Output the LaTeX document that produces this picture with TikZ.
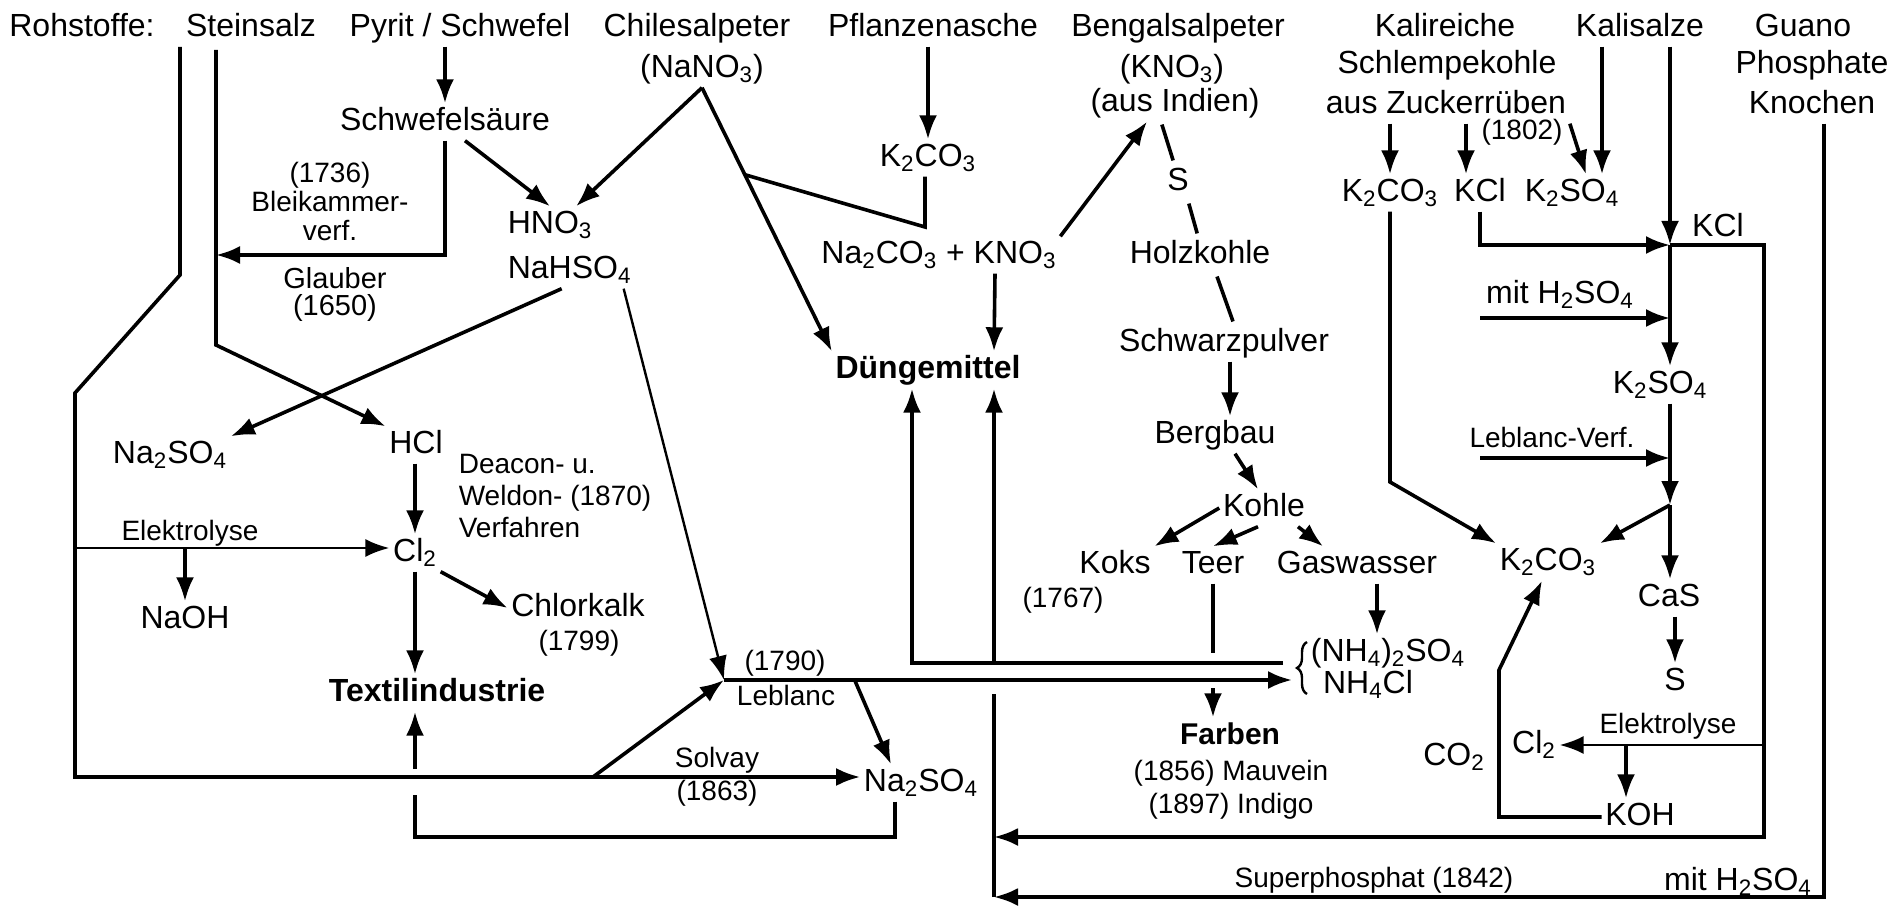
\documentclass[tikz,border=0pt]{standalone}
\usepackage{fontspec}
\setmainfont{Liberation Sans}
\usetikzlibrary{arrows.meta,calc,decorations.pathreplacing}
\newcommand{\sbs}[1]{\textsubscript{#1}}
\begin{document}
\begin{tikzpicture}[x=0.5pt,y=-0.5pt,>={Latex[length=12pt,width=9pt]},line width=1.8pt,
    lbl/.style={font=\fontsize{16}{19}\selectfont,inner sep=1pt,text height=11.5pt,text depth=3.4pt},
    sml/.style={font=\fontsize{14}{16}\selectfont,inner sep=1pt,text height=10pt,text depth=3pt},
    bld/.style={lbl,font=\fontsize{16}{19}\selectfont\bfseries},
    note/.style={font=\fontsize{14}{14.5}\selectfont,inner sep=1pt,align=center},
    fine/.style={line width=1.2pt},
    shortseg/.style={shorten <=1.5pt,shorten >=1.5pt}]
\useasboundingbox (0,0) rectangle (1900,914);
\foreach \nm/\x/\txt in {rohstoffe/82/{Rohstoffe:},steinsalz/251/Steinsalz,pyrit/460/{Pyrit / Schwefel},chile/697/Chilesalpeter,pflanze/933/Pflanzenasche,bengal/1178/Bengalsalpeter,kalireich/1445/Kalireiche,kalisalze/1640/Kalisalze,guano/1803/Guano}
{
    \node[lbl] (\nm) at (\x,28) {\txt};
}
\node[lbl] (nano3) at (702,69) {(NaNO\sbs3)};
\node[lbl] (kno3b) at (1172,69) {(KNO\sbs3)};
\node[lbl] (indien) at (1175,103) {(aus Indien)};
\node[lbl] (schlempe) at (1447,65) {Schlempekohle};
\node[lbl] (zucker) at (1446,105) {aus Zuckerrüben};
\node[lbl] (phosphate) at (1812,65) {Phosphate};
\node[lbl] (knochen) at (1812,105) {Knochen};

\node[lbl] (schwefel) at (445,122) {Schwefelsäure};
\node[note,anchor=north] (bleik) at (330,158) {(1736)\\Bleikammer-\\verf.};
\node[note,anchor=north,font=\fontsize{14.5}{13.5}\selectfont] (glauber) at (335,264) {Glauber\\(1650)};
\node[lbl,anchor=west] (hno3) at (504,225) {HNO\sbs3};
\node[lbl,anchor=west] (nahso4) at (504,270) {NaHSO\sbs4};
\node[lbl] (na2so4a) at (170,455) {Na\sbs2SO\sbs4};
\node[lbl] (hcl) at (416,445) {HCl};
\node[note,anchor=north west,align=left,font=\fontsize{14}{16}\selectfont] (deacon) at (455,450) {Deacon- u.\\Weldon- (1870)\\Verfahren};
\node[sml] (elektro1) at (190,533) {Elektrolyse};
\node[lbl] (cl2) at (415,553) {Cl\sbs2};
\node[lbl] (naoh) at (185,620) {NaOH};
\node[lbl] (chlorkalk) at (578,608) {Chlorkalk};
\node[sml] (y1799) at (579,643) {(1799)};
\node[bld] (textil) at (437,693) {Textilindustrie};

\node[lbl] (k2co3a) at (928,158) {K\sbs2CO\sbs3};
\node[lbl] (nak) at (939,255) {Na\sbs2CO\sbs3 + KNO\sbs3};
\node[bld] (dung) at (928,370) {Düngemittel};
\node[sml] (y1790) at (785,663) {(1790)};
\node[sml] (leblanc) at (786,698) {Leblanc};
\node[sml] (solvay) at (717,760) {Solvay};
\node[sml] (y1863) at (717,793) {(1863)};
\node[lbl] (na2so4b) at (921,783) {Na\sbs2SO\sbs4};

\node[lbl] (s1) at (1178,182) {S};
\node[lbl] (holz) at (1200,255) {Holzkohle};
\node[lbl] (schwarz) at (1224,343) {Schwarzpulver};
\node[lbl] (bergbau) at (1215,435) {Bergbau};
\node[lbl] (kohle) at (1264,508) {Kohle};
\node[lbl] (koks) at (1115,565) {Koks};
\node[lbl] (teer) at (1213,565) {Teer};
\node[lbl] (gas) at (1357,565) {Gaswasser};
\node[sml] (y1767) at (1063,600) {(1767)};
\node[lbl] (nh4so4) at (1388,653) {(NH\sbs4)\sbs2SO\sbs4};
\node[lbl] (nh4cl) at (1368,685) {NH\sbs4Cl};
\node[lbl,font=\fontsize{15}{18}\selectfont\bfseries] (farben) at (1230,736) {Farben};
\node[sml] (mauvein) at (1231,773) {(1856) Mauvein};
\node[sml] (indigo) at (1231,806) {(1897) Indigo};

\node[lbl] (k2co3r) at (1390,193) {K\sbs2CO\sbs3};
\node[lbl] (kcl1) at (1480,193) {KCl};
\node[lbl] (k2so4a) at (1572,193) {K\sbs2SO\sbs4};
\node[sml] (y1802) at (1522,133) {(1802)};
\node[lbl] (kcl2) at (1718,228) {KCl};
\node[lbl] (mith1) at (1560,295) {mit H\sbs2SO\sbs4};
\node[lbl] (k2so4r) at (1660,385) {K\sbs2SO\sbs4};
\node[sml] (lbverf) at (1552,440) {Leblanc-Verf.};
\node[lbl] (k2co3m) at (1548,562) {K\sbs2CO\sbs3};
\node[lbl] (cas) at (1669,598) {CaS};
\node[lbl] (s2) at (1675,682) {S};
\node[sml] (elektro2) at (1668,726) {Elektrolyse};
\node[lbl] (cl2r) at (1534,745) {Cl\sbs2};
\node[lbl] (co2) at (1454,757) {CO\sbs2};
\node[lbl] (koh) at (1640,817) {KOH};
\node[sml] (superph) at (1374,880) {Superphosphat (1842)};
\node[lbl] (mith2) at (1738,882) {mit H\sbs2SO\sbs4};

\coordinate (ss1) at (180,47);
\coordinate (ss2) at (180,275);
\coordinate (ss3) at (75,393);
\coordinate (el) at (75,548);
\coordinate (ss4) at (75,777);
\coordinate (solv) at (593,777);
\coordinate (si1) at (216,50);
\coordinate (si2) at (216,345);
\coordinate (gl) at (216,255);
\coordinate (lb) at (724,680);
\coordinate (br) at (1292,680);
\coordinate (amA) at (1283,663);
\coordinate (tb) at (0,837);
\coordinate (spb) at (0,897);
\coordinate (dL) at ([xshift=-8pt]dung.south);
\coordinate (dR) at ([xshift=33pt]dung.south);
\coordinate (cj) at ($(nano3.south)!0.33!(dung.north west)$);
\coordinate (nj) at (925,227);
\coordinate (kj) at (1670,245);
\coordinate (kr1) at (1764,245);
\coordinate (mh) at (1480,318);
\coordinate (lv) at (1480,458);
\coordinate (kb) at (1670,505);
\coordinate (el2) at (0,745);
\coordinate (kc1) at (1499,670);
\coordinate (kc2) at (1390,482);
\coordinate (gu) at ([xshift=6pt]knochen.south);

\draw (ss1)--(ss2)--(ss3)--(ss4)--(solv);
\draw[->] (solv)--(solv -| na2so4b.west);
\draw[->] (solv)--(lb);
\draw[->,fine] (el)--(el -| cl2.west);
\draw[->] (el -| naoh)--(naoh.north);
\draw[->] (si1)--(si2)--(hcl.north west);
\draw[->] (pyrit.south -| schwefel)--(schwefel.north);
\draw[->] (schwefel.south) |- (gl);
\draw[->] ([xshift=10pt]schwefel.south)--(hno3.north);
\draw[->] (nano3.south)--([xshift=13pt]hno3.north);
\draw[->] (nano3.south)--(dung.north west);
\draw (cj)--(nj)--(nj |- k2co3a.south);
\draw[->] (pflanze.south -| k2co3a)--(k2co3a.north);
\draw[->] ([xshift=28pt]nak.south)--([xshift=33pt]dung.north);
\draw[->] (nak.north east)--([xshift=-14pt]indien.south);
\draw[shortseg] ([xshift=-7pt]indien.south)--([xshift=-2pt]s1.north);
\draw[shortseg] ([xshift=5pt]s1.south)--([xshift=-1pt]holz.north);
\draw[shortseg] ([xshift=8pt]holz.south)--([xshift=5pt]schwarz.north);
\draw[->] ([xshift=3pt]schwarz.south)--([xshift=3pt]schwarz.south |- bergbau.north);
\draw[->] ([xshift=10pt]bergbau.south)--([xshift=-3pt]kohle.north);
\draw[->] (kohle.west)--(koks.north east);
\draw[->] ([xshift=-3pt]kohle.south)--(teer.north);
\draw[->] ([xshift=17pt]kohle.south)--([xshift=-17pt]gas.north);
\draw (teer.south)--([yshift=5pt]teer.south |- amA);
\draw[->] ([yshift=-4pt]teer.south |- lb)--(teer.south |- farben.north);
\draw[->] ([xshift=10pt]gas.south)--([xshift=10pt]gas.south |- nh4so4.north);
\draw[fine,decorate,decoration={brace,amplitude=5pt}] (1307,694)--(1307,642);
\draw[->] (lb)--(br);
\draw[->] (amA) -| (dL);
\draw[->] (dR |- amA)--(dR);
\draw (dR |- spb)--([yshift=-7pt]dR |- lb);
\draw[->,fine] ([xshift=27pt]nahso4.south)--(lb);
\draw[->] ([xshift=-4pt]nahso4.south)--(na2so4a.north east);
\draw[->] ($(lb)!0.23!(br)$)--([xshift=-15pt]na2so4b.north);
\draw ([xshift=-13pt]na2so4b.south) |- (cl2 |- tb)--([yshift=-9pt]cl2 |- solv);
\draw[->] ([yshift=4pt]cl2 |- solv)--(cl2 |- textil.south);
\draw[->] (cl2.south)--(cl2 |- textil.north);
\draw[->] (hcl.south -| cl2)--(cl2.north);
\draw[->] (cl2.south east)--(chlorkalk.west);

\draw[->] (k2co3r |- zucker.south)--(k2co3r.north);
\draw[->] ([xshift=-7pt]kcl1.north |- zucker.south)--([xshift=-7pt]kcl1.north);
\draw[->] (zucker.south east)--([xshift=7pt]k2so4a.north);
\draw[->] ([xshift=-19pt]kalisalze.south)--([xshift=15pt]k2so4a.north);
\draw[->] (kalisalze.south -| kj)--(kj);
\draw[->] (kcl1.south) |- (kj);
\draw[->] (mh)--(mh -| kj);
\draw[->] (kj)--(kj |- k2so4r.north);
\draw[->] (lv)--(lv -| kj);
\draw[->] (kj |- k2so4r.south)--(kb);
\draw[->] (kb)--(k2co3m.north east);
\draw[->] (kb)--(kb |- cas.north);
\draw[->] (cas.south -| s2)--(s2.north);
\draw[->] (k2co3r.south)--(kc2)--(k2co3m.north west);
\draw[->] (koh.west) -| (kc1)--([xshift=-3pt]k2co3m.south);
\draw[->] (kj)--(kr1)--(kr1 |- tb)--(dR |- tb);
\draw[->,fine] (kr1 |- el2)--(cl2r.east);
\draw[->] ([xshift=-7pt]koh.north |- el2)--([xshift=-7pt]koh.north);
\draw[->] (gu)--(gu |- spb)--(dR |- spb);
\end{tikzpicture}
\end{document}
